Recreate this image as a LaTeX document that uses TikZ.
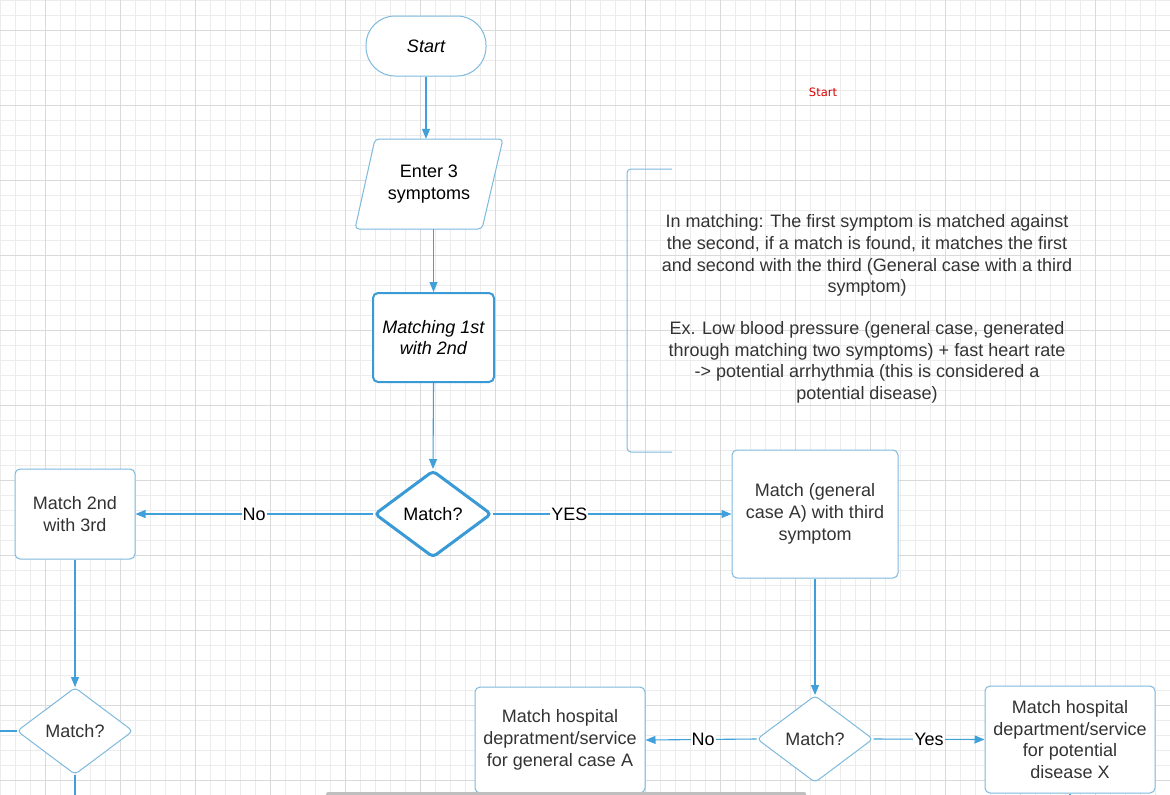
\documentclass[tikz,border=0pt]{standalone}
\usepackage{fontspec}
\setmainfont{Liberation Sans}
\newfontfamily\dejavu{DejaVu Sans}
\usetikzlibrary{shapes.geometric,arrows.meta}
\definecolor{gridminor}{RGB}{236,236,236}
\definecolor{gridmajor}{RGB}{218,218,218}
\definecolor{boxblue}{RGB}{125,185,220}
\definecolor{linkblue}{RGB}{65,160,218}
\definecolor{thickblue}{RGB}{58,154,214}
\definecolor{txtgray}{RGB}{51,51,51}
\tikzset{
  base/.style={font=\fontsize{18}{21.7}\selectfont, align=center, inner sep=0pt},
  boxnode/.style={base, draw=boxblue, line width=1pt, rounded corners=5pt, fill=white, text=txtgray},
  thickbox/.style={base, draw=thickblue, line width=2pt, rounded corners=5pt, fill=white, text=black},
  decision/.style={base, diamond, draw=boxblue, line width=1pt, rounded corners=4pt, fill=white, text=txtgray, minimum width=116pt, minimum height=87pt},
  link/.style={draw=linkblue, line width=1.1pt, -{Triangle[length=10pt,width=8pt]}},
  plainlink/.style={draw=linkblue, line width=1.1pt},
  lbl/.style={base, fill=white, text=black, inner sep=1pt},
}
\begin{document}
\begin{tikzpicture}[x=1pt, y=-1pt]
\useasboundingbox (0,0) rectangle (1170,795);
\fill[white] (0,0) rectangle (1170,795);
% grid
\foreach \gx in {0,15,...,1170} \draw[gridminor, line width=0.8pt] (\gx,0) -- (\gx,795);
\foreach \gy in {0,15,...,795} \draw[gridminor, line width=0.8pt] (0,\gy) -- (1170,\gy);
\foreach \gx in {45,120,...,1170} \draw[gridmajor, line width=1pt] (\gx,0) -- (\gx,795);
\foreach \gy in {30,105,...,795} \draw[gridmajor, line width=1pt] (0,\gy) -- (1170,\gy);

% nodes
\node[base, draw=boxblue, line width=1pt, rounded corners=29pt, fill=white, text=black,
      minimum width=120pt, minimum height=60pt, font=\fontsize{18}{21.7}\selectfont\itshape] (start) at (426,46) {Start};

\fill[white, rounded corners=4pt] (375,139) -- (503,139) -- (482,229) -- (355,229) -- cycle;
\draw[boxblue, line width=1pt, rounded corners=4pt] (375,139) -- (503,139) -- (482,229) -- (355,229) -- cycle;
\node[base, text=black, minimum width=148pt, minimum height=90pt] (enter) at (429,184) {Enter 3\\symptoms};

\node[thickbox, minimum width=121pt, minimum height=89pt, font=\fontsize{18}{21.7}\selectfont\itshape] (match12) at (433.5,337.5) {Matching 1st\\with 2nd};

\node[decision, draw=thickblue, line width=3pt, text=black, minimum width=117pt] (d1) at (433,514) {Match?};

\node[boxnode, minimum width=120pt, minimum height=90pt] (m23) at (75,514) {Match 2nd\\with 3rd};
\node[decision] (d2) at (75,731) {Match?};

\node[boxnode, minimum width=166pt, minimum height=128pt] (mA) at (815,514) {Match (general\\case A) with third\\symptom};
\node[decision] (d3) at (815,739) {Match?};

\node[boxnode, minimum width=170pt, minimum height=106pt] (hA) at (560,740) {Match hospital\\depratment/service\\for general case A};
\node[boxnode, minimum width=170pt, minimum height=107pt] (hX) at (1070,739.5) {Match hospital\\department/service\\for potential\\disease X};

% annotation
\draw[boxblue, line width=1pt, rounded corners=4pt] (672,169) -- (627,169) -- (627,452) -- (672,452);
\node[base, text=txtgray] (note) at (867,309) {In matching: The first symptom is matched against\\the second, if a match is found, it matches the first\\and second with the third (General case with a third\\symptom)\\[20pt]Ex. Low blood pressure (general case, generated\\through matching two symptoms) + fast heart rate\\-> potential arrhythmia (this is considered a\\potential disease)};

\node[font=\dejavu\fontsize{11.5}{12}\selectfont, text=red!85!black, inner sep=0pt] (redstart) at (823,92) {Start};

% connectors
\coordinate (lin) at (0,731);
\coordinate (d2end) at (75,795);
\coordinate (hAend) at (560,795);
\coordinate (hXend) at (1070,795);

\draw[link] (start.south) -- (start.south |- enter.north);
\draw[link] (match12.north |- enter.south) -- (match12.north);
\draw[link] (match12.south) -- (d1.north);
\draw[link] (d1.west) -- node[lbl] {No} (m23.east);
\draw[link] (d1.east) -- node[lbl, pos=0.32] {YES} (mA.west);
\draw[link] (m23.south) -- (d2.north);
\draw[plainlink] (lin) -- (d2.west);
\draw[plainlink] (d2.south) -- (d2end);
\draw[link] (mA.south) -- (d3.north);
\draw[link] (d3.west) -- node[lbl, pos=0.48] {No} (hA.east);
\draw[link] (d3.east) -- node[lbl] {Yes} (hX.west);
\draw[plainlink] (hA.south) -- (hAend);
\draw[plainlink] (hX.south) -- (hXend);

% scrollbar
\fill[gray!50, rounded corners=1.5pt] (326,792) rectangle (806,797);
\end{tikzpicture}
\end{document}
